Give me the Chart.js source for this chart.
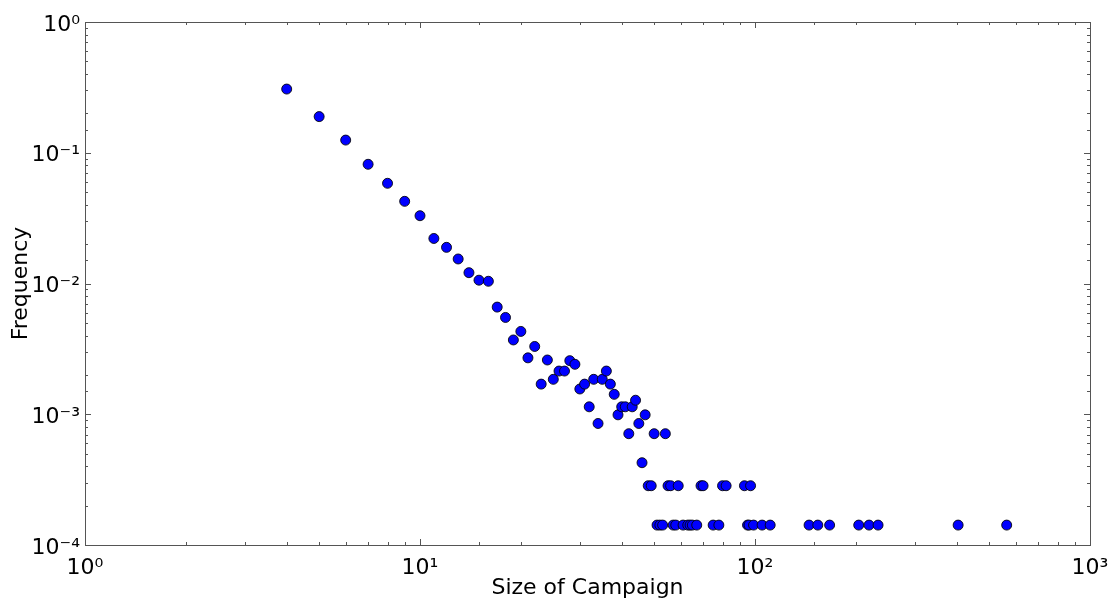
<!DOCTYPE html>
<html>
<head>
<meta charset="utf-8">
<script src="https://cdn.jsdelivr.net/npm/chart.js@4.4.0/dist/chart.umd.min.js"></script>
<style>
  html, body { margin: 0; padding: 0; background: #ffffff; }
  #wrap { width: 1114px; height: 603px; }
</style>
</head>
<body>
<div id="wrap"><canvas id="c" width="1114" height="603"></canvas></div>
<script>
// Campaign sizes (x) and their observed frequencies (y)
const sizes = [4,5,6,7,8,9,10,11,12,13,14,15,16,17,18,19,20,21,22,23,24,25,26,27,28,29,30,31,32,33,34,35,36,37,38,39,40,41,42,43,44,45,46,47,48,49,50,51,52,53,54,55,56,57,58,59,61,63,64,65,67,69,70,75,78,80,82,93,95,96,97,99,105,111,145,154,167,204,219,233,404,564];
const frequencies = [0.307,0.189,0.125,0.0816,0.0584,0.0425,0.0330,0.0221,0.0189,0.0154,0.0121,0.0106,0.0104,0.0066,0.0055,0.0037,0.0043,0.0027,0.0033,0.0017,0.0026,0.00185,0.00214,0.00214,0.00257,0.00241,0.00156,0.0017,0.00114,0.00185,0.00085,0.00185,0.00214,0.0017,0.00142,0.00099,0.00114,0.00114,0.00071,0.00114,0.00128,0.00085,0.000426,0.00099,0.000284,0.000284,0.00071,0.000142,0.000142,0.000142,0.00071,0.000284,0.000284,0.000142,0.000142,0.000284,0.000142,0.000142,0.000142,0.000142,0.000142,0.000284,0.000284,0.000142,0.000142,0.000284,0.000284,0.000284,0.000142,0.000142,0.000284,0.000142,0.000142,0.000142,0.000142,0.000142,0.000142,0.000142,0.000142,0.000142,0.000142,0.000142];

const xTitle = 'Size of Campaign';
const yTitle = 'Frequency';
const xRange = [1, 1000];
const yRange = [0.0001, 1];

const supMap = {'0':'⁰','1':'¹','2':'²','3':'³','4':'⁴','5':'⁵','6':'⁶','7':'⁷','8':'⁸','9':'⁹','-':'⁻'};
function powLabel(v) {
  const l = Math.log10(v);
  const r = Math.round(l);
  if (Math.abs(l - r) > 1e-6) return '';
  return '10' + String(r).split('').map(ch => supMap[ch]).join('');
}
function isMajor(v) {
  const l = Math.log10(v);
  return Math.abs(l - Math.round(l)) < 1e-6;
}

const points = sizes.map((s, i) => ({ x: s, y: frequencies[i] }));

const frameTicks = {
  id: 'frameTicks',
  afterDraw(chart) {
    const ctx = chart.ctx;
    const a = chart.chartArea;
    const xs = chart.scales.x, ys = chart.scales.y;
    ctx.save();
    ctx.strokeStyle = '#555555';
    ctx.lineWidth = 1;
    ctx.strokeRect(Math.round(a.left) + 0.5, Math.round(a.top) + 0.5,
                   Math.round(a.right - a.left), Math.round(a.bottom - a.top));
    ctx.beginPath();
    xs.ticks.forEach(t => {
      const px = Math.round(xs.getPixelForValue(t.value)) + 0.5;
      const len = isMajor(t.value) ? 6 : 3;
      ctx.moveTo(px, a.bottom); ctx.lineTo(px, a.bottom - len);
      ctx.moveTo(px, a.top); ctx.lineTo(px, a.top + len);
    });
    ys.ticks.forEach(t => {
      const py = Math.round(ys.getPixelForValue(t.value)) + 0.5;
      const len = isMajor(t.value) ? 6 : 3;
      ctx.moveTo(a.left, py); ctx.lineTo(a.left + len, py);
      ctx.moveTo(a.right, py); ctx.lineTo(a.right - len, py);
    });
    ctx.stroke();
    ctx.restore();
  }
};

new Chart(document.getElementById('c'), {
  type: 'scatter',
  data: {
    datasets: [{
      data: points,
      backgroundColor: '#0000ff',
      borderColor: 'rgba(0,0,0,0.85)',
      borderWidth: 1,
      pointRadius: 5,
      pointHoverRadius: 5
    }]
  },
  options: {
    responsive: false,
    animation: false,
    layout: { padding: { top: 22, right: 24, left: 0, bottom: 0 } },
    plugins: { legend: { display: false }, tooltip: { enabled: false } },
    scales: {
      x: {
        type: 'logarithmic',
        min: xRange[0], max: xRange[1],
        grid: { display: false, drawTicks: false },
        border: { display: false },
        ticks: {
          autoSkip: false, maxRotation: 0, padding: 10,
          color: '#000', font: { family: 'DejaVu Sans', size: 22 },
          callback: (v) => powLabel(v)
        },
        title: {
          display: true, text: xTitle, color: '#000',
          font: { family: 'DejaVu Sans', size: 22 },
          padding: { top: 0, bottom: 2 }
        },
        afterFit: (s) => { s.height = 58; s.paddingLeft = 0; s.paddingRight = 0; }
      },
      y: {
        type: 'logarithmic',
        min: yRange[0], max: yRange[1],
        grid: { display: false, drawTicks: false },
        border: { display: false },
        ticks: {
          autoSkip: false, padding: 5, labelOffset: 3,
          color: '#000', font: { family: 'DejaVu Sans', size: 22 },
          callback: (v) => powLabel(v)
        },
        title: {
          display: true, text: yTitle, color: '#000',
          font: { family: 'DejaVu Sans', size: 22 },
          padding: { top: 8, bottom: 0 }
        },
        afterFit: (s) => { s.width = 85; s.paddingTop = 0; s.paddingBottom = 0; }
      }
    }
  },
  plugins: [frameTicks]
});
</script>
</body>
</html>
